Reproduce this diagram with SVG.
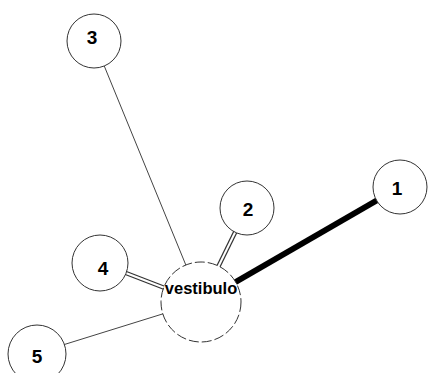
<svg xmlns="http://www.w3.org/2000/svg" width="430" height="373" viewBox="0 0 430 373">
<style>
.node{fill:#fff;stroke:#333;stroke-width:1}
.dash{stroke-dasharray:10 3}
.thin{stroke:#444;stroke-width:1;fill:none}
.thick{stroke:#000;stroke-width:6;fill:none}
.dblo{stroke:#333;stroke-width:4.5;fill:none}
.dbli{stroke:#fff;stroke-width:2;fill:none}
.num{font-family:"Liberation Sans",Arial,sans-serif;font-weight:bold;font-size:19px;text-anchor:middle;fill:#000}
.lbl{font-family:"Liberation Sans",Arial,sans-serif;font-weight:bold;font-size:16.5px;text-anchor:middle;fill:#000}
</style>
<rect width="430" height="373" fill="#fff"/>
<g id="connectors">
<line class="thin" x1="94" y1="41" x2="201" y2="302"/>
<line class="thin" x1="37" y1="353" x2="201" y2="302"/>
<line class="thick" x1="201" y1="302" x2="400" y2="187"/>
<line class="dblo" x1="247" y1="208" x2="201" y2="302"/>
<line class="dbli" x1="247" y1="208" x2="201" y2="302"/>
<line class="dblo" x1="100" y1="263" x2="201" y2="302"/>
<line class="dbli" x1="100" y1="263" x2="201" y2="302"/>
</g>
<g id="node-vestibulo">
<circle class="node dash" cx="201" cy="302" r="40"/>
<text class="lbl" x="201" y="294">vestibulo</text>
</g>
<g id="node-1">
<circle class="node" cx="400" cy="187" r="27"/>
<text class="num" x="397" y="195">1</text>
</g>
<g id="node-2">
<circle class="node" cx="247" cy="208" r="27"/>
<text class="num" x="248" y="216">2</text>
</g>
<g id="node-3">
<circle class="node" cx="94" cy="41" r="27"/>
<text class="num" x="92" y="44">3</text>
</g>
<g id="node-4">
<circle class="node" cx="100" cy="263" r="28"/>
<text class="num" x="103" y="275">4</text>
</g>
<g id="node-5">
<circle class="node" cx="37" cy="354" r="29"/>
<text class="num" x="37" y="363">5</text>
</g>
</svg>
